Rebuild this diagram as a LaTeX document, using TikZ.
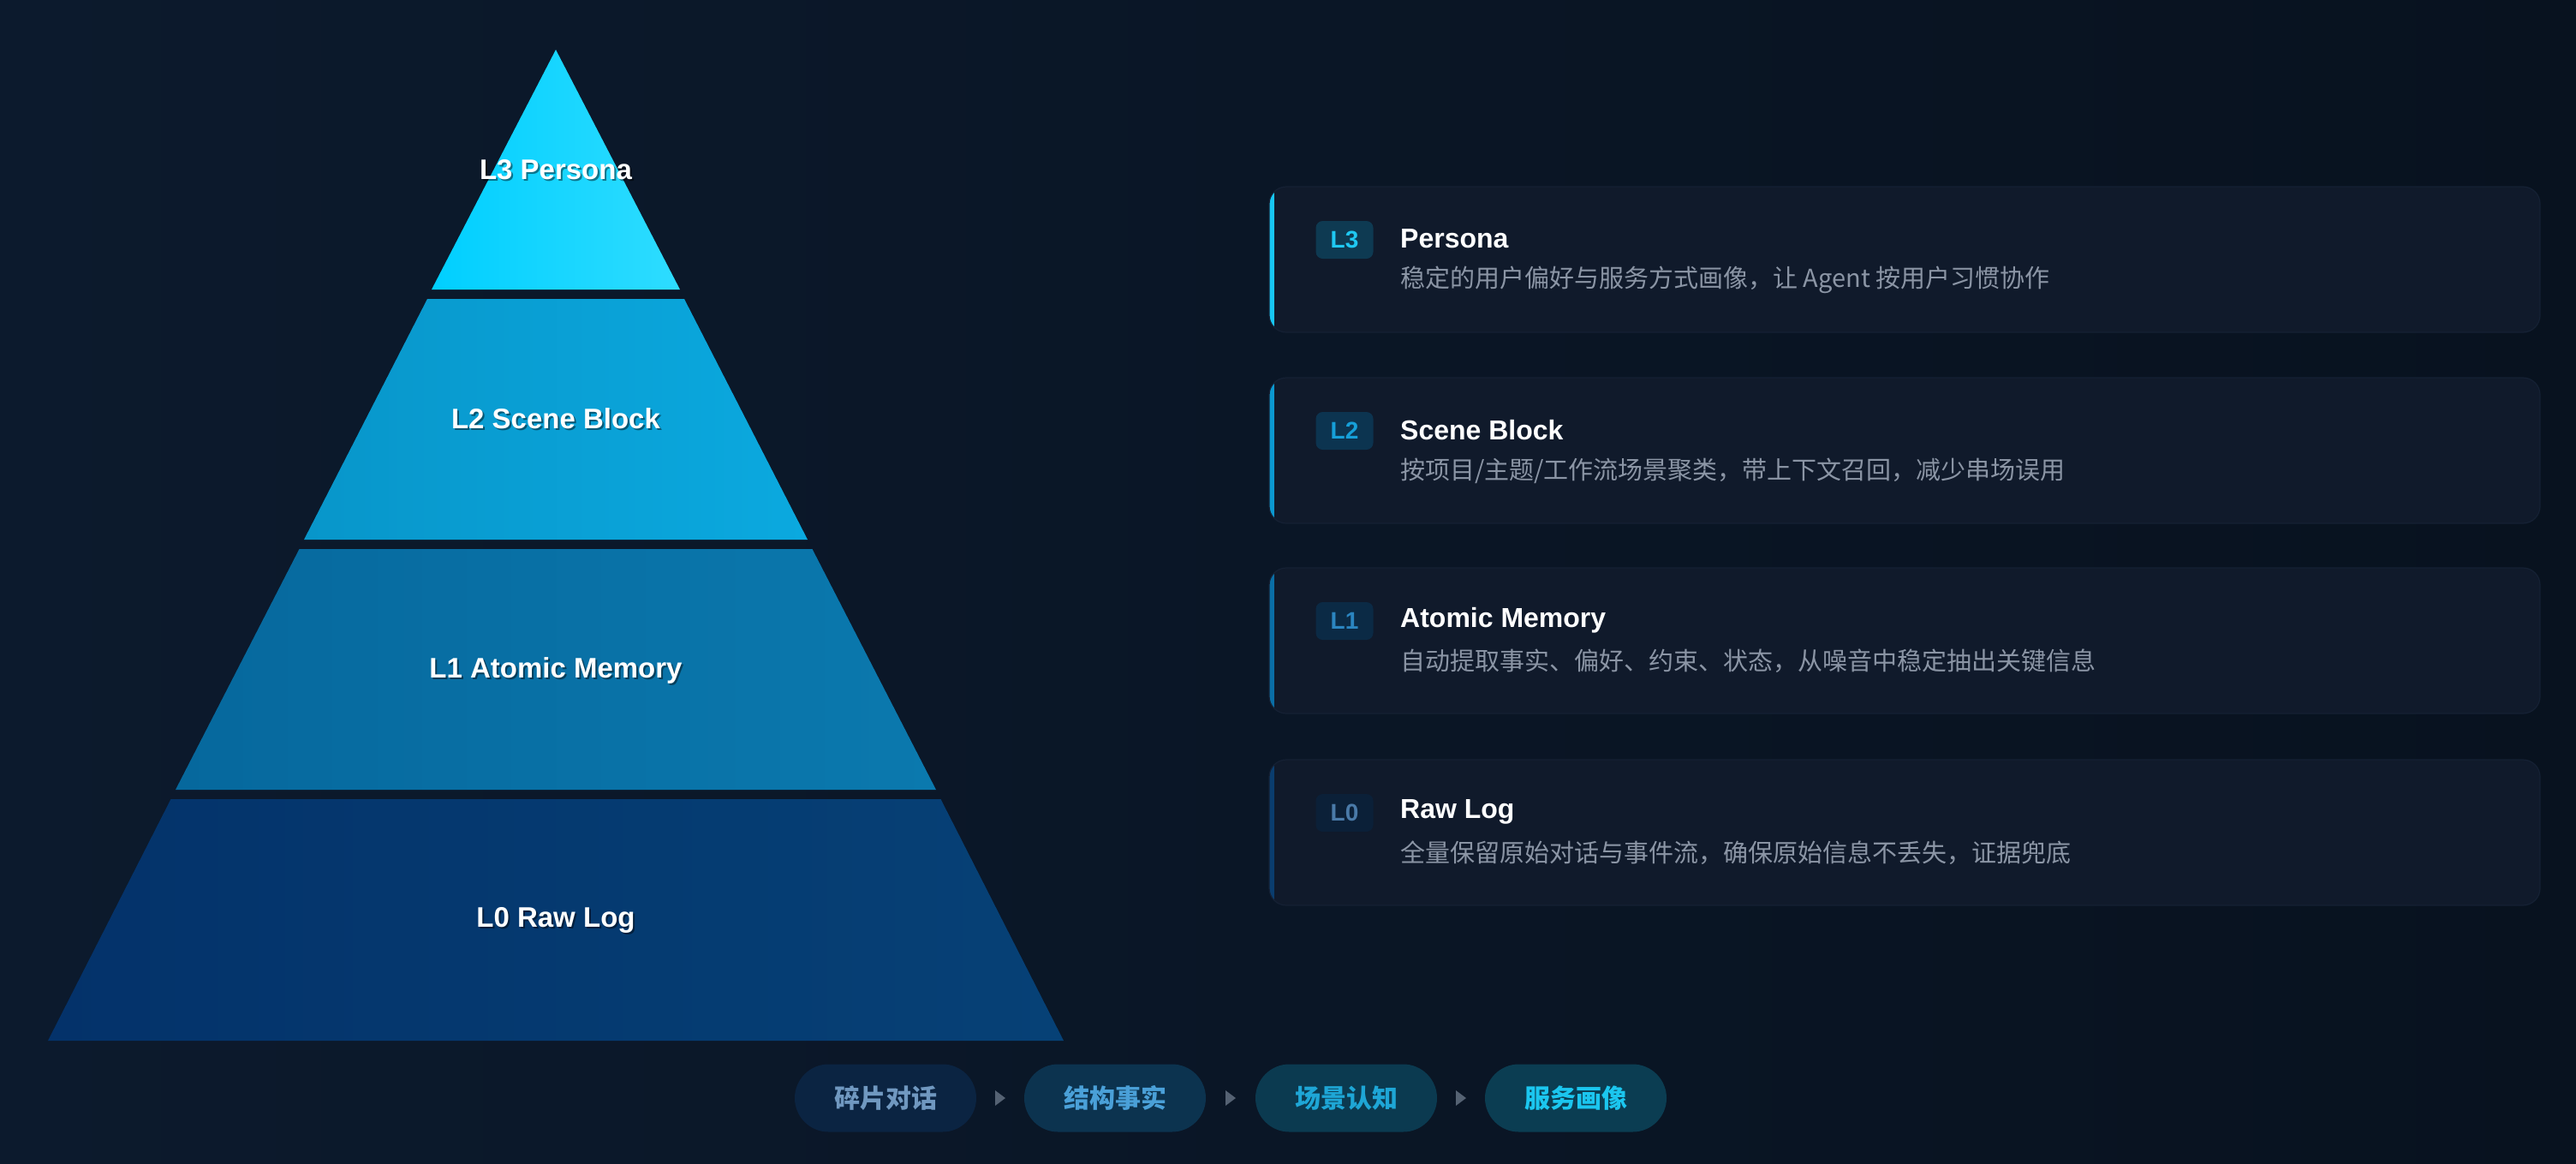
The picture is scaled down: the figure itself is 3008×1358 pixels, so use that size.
\documentclass[tikz,border=0pt]{standalone}
\usepackage{fontspec}
\setmainfont{Liberation Sans}
\newfontfamily\cjk{Noto Sans CJK SC}
\usetikzlibrary{calc}
\definecolor{bgL}{HTML}{0C1A2D}
\definecolor{bgR}{HTML}{08121F}
\definecolor{cardfill}{HTML}{101A2B}
\definecolor{cardline}{HTML}{152134}
\definecolor{desccol}{HTML}{8B95A5}
\definecolor{accA}{HTML}{17C6F3}
\definecolor{accB}{HTML}{0B98D0}
\definecolor{accC}{HTML}{0A6EA6}
\definecolor{accD}{HTML}{0A3D6E}
\definecolor{bfA}{HTML}{0E3A52}
\definecolor{bfB}{HTML}{0C3450}
\definecolor{bfC}{HTML}{0B2A45}
\definecolor{bfD}{HTML}{0B2038}
\definecolor{btA}{HTML}{1FC8F2}
\definecolor{btB}{HTML}{169FD8}
\definecolor{btC}{HTML}{2B85C0}
\definecolor{btD}{HTML}{4A7AA8}
\definecolor{pfA}{HTML}{0B2442}
\definecolor{pfB}{HTML}{0C334F}
\definecolor{pfC}{HTML}{0B3A50}
\definecolor{pfD}{HTML}{0B3D52}
\definecolor{ptA}{HTML}{7098C0}
\definecolor{ptB}{HTML}{4AA0D8}
\definecolor{ptC}{HTML}{1EA6D6}
\definecolor{ptD}{HTML}{1BC6EF}
\definecolor{arrowc}{HTML}{556273}
\definecolor{l3L}{HTML}{00CFFF}
\definecolor{l3R}{HTML}{2EDCFF}
\definecolor{l2L}{HTML}{0896CA}
\definecolor{l2R}{HTML}{0BA9DF}
\definecolor{l1L}{HTML}{06689D}
\definecolor{l1R}{HTML}{0B79AE}
\definecolor{l0L}{HTML}{04326A}
\definecolor{l0R}{HTML}{064176}
\newcommand\mycard[8]{%
  \begin{scope}
    \path[clip, rounded corners=20] (1482,#1) rectangle (2966,#1+170);
    \fill[cardfill] (1482,#1) rectangle (2966,#1+170);
    \fill[#5] (1482,#1) rectangle (1488,#1+170);
  \end{scope}
  \draw[cardline, line width=1.2, rounded corners=20] (1482,#1) rectangle (2966,#1+170);
  \node[badge, fill=#6, text=#7] (#8b) at (1570,#1+62) {#2};
  \node[cardtitle] (#8t) at (1635,#1+61) {#3};
  \node[carddesc] (#8d) at (1635,#1+109) {#4};
}
\begin{document}
\begin{tikzpicture}[x=1pt,y=-1pt,
  lbl/.style={font=\fontsize{33}{40}\selectfont\bfseries, text=white, inner sep=0},
  lblshadow/.style={font=\fontsize{33}{40}\selectfont\bfseries, text=black, opacity=0.45, inner sep=0},
  badge/.style={minimum width=67, minimum height=44, rounded corners=8, inner sep=0,
    font=\fontsize{28}{32}\selectfont\bfseries},
  cardtitle/.style={anchor=west, inner sep=0, text=white, font=\fontsize{32}{38}\selectfont\bfseries},
  carddesc/.style={anchor=west, inner sep=0, text=desccol, font=\cjk\fontsize{29}{34}\selectfont},
  pill/.style={minimum width=212, minimum height=79, rounded corners=39.5, inner sep=0,
    font=\cjk\fontsize{30}{36}\selectfont\bfseries},
  tri/.style={fill=arrowc}
]
\useasboundingbox (0,0) rectangle (3008,1358);
\shade[left color=bgL, right color=bgR] (0,0) rectangle (3008,1358);

% pyramid layers
\shade[left color=l3L, right color=l3R]
  (649,58) -- (794,338) -- (504,338) -- cycle;
\shade[left color=l2L, right color=l2R]
  (499,349) -- (799,349) -- (943,630) -- (355,630) -- cycle;
\shade[left color=l1L, right color=l1R]
  (349.5,641) -- (948.5,641) -- (1093,922) -- (205,922) -- cycle;
\shade[left color=l0L, right color=l0R]
  (199.5,933) -- (1098.5,933) -- (1242,1215) -- (56,1215) -- cycle;

% pyramid labels
\node[lblshadow] (s3) at (651,200) {L3 Persona};
\node[lbl] (t3) at (649,198) {L3 Persona};
\node[lblshadow] (s2) at (651,491) {L2 Scene Block};
\node[lbl] (t2) at (649,489) {L2 Scene Block};
\node[lblshadow] (s1) at (651,785) {L1 Atomic Memory};
\node[lbl] (t1) at (649,783) {L1 Atomic Memory};
\node[lblshadow] (s0) at (651,1076) {L0 Raw Log};
\node[lbl] (t0) at (649,1074) {L0 Raw Log};

% cards
\mycard{218}{L3}{Persona}{稳定的用户偏好与服务方式画像，让 Agent 按用户习惯协作}{accA}{bfA}{btA}{c3}
\mycard{441}{L2}{Scene Block}{按项目/主题/工作流场景聚类，带上下文召回，减少串场误用}{accB}{bfB}{btB}{c2}
\mycard{663}{L1}{Atomic Memory}{自动提取事实、偏好、约束、状态，从噪音中稳定抽出关键信息}{accC}{bfC}{btC}{c1}
\mycard{887}{L0}{Raw Log}{全量保留原始对话与事件流，确保原始信息不丢失，证据兜底}{accD}{bfD}{btD}{c0}

% bottom flow
\node[pill, fill=pfA, text=ptA] (p1) at (1034,1282) {碎片对话};
\node[pill, fill=pfB, text=ptB] (p2) at (1302,1282) {结构事实};
\node[pill, fill=pfC, text=ptC] (p3) at (1572,1282) {场景认知};
\node[pill, fill=pfD, text=ptD] (p4) at (1840,1282) {服务画像};
\coordinate (m1) at ($(p1.east)!0.5!(p2.west)$);
\coordinate (m2) at ($(p2.east)!0.5!(p3.west)$);
\coordinate (m3) at ($(p3.east)!0.5!(p4.west)$);
\foreach \m in {m1,m2,m3}{
  \fill[tri] ($(\m)+(-6,-9)$) -- ($(\m)+(6,0)$) -- ($(\m)+(-6,9)$) -- cycle;
}
\end{tikzpicture}
\end{document}
